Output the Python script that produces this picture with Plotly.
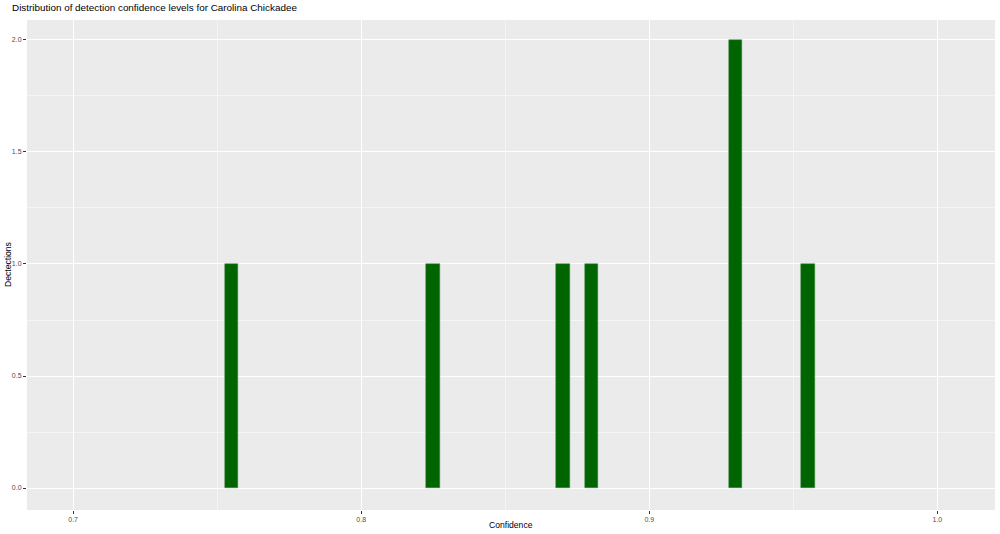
import plotly.graph_objects as go

confidence = [0.755, 0.825, 0.870, 0.880, 0.930, 0.955]
detections = [1, 1, 1, 1, 2, 1]
x_ticks = [0.7, 0.8, 0.9, 1.0]
x_tick_labels = ["0.7", "0.8", "0.9", "1.0"]
y_ticks = [0.0, 0.5, 1.0, 1.5, 2.0]
y_tick_labels = ["0.0", "0.5", "1.0", "1.5", "2.0"]

fig = go.Figure()
fig.add_trace(go.Bar(
    x=confidence, y=detections, width=0.0047,
    marker=dict(color="#006400", line=dict(color="#3a8a3a", width=0.5)),
))

font_family = "Liberation Sans, Arial, sans-serif"
fig.update_layout(
    width=1000, height=534,
    paper_bgcolor="white", plot_bgcolor="#EBEBEB",
    margin=dict(l=27, r=5, t=20, b=24, autoexpand=False),
    showlegend=False,
    font=dict(family=font_family, color="black"),
    title=dict(text="Distribution of detection confidence levels for Carolina Chickadee",
               x=0.012, xanchor="left", y=0.992, yanchor="top",
               font=dict(size=9.9, color="black")),
    bargap=0,
)
fig.update_xaxes(
    range=[0.684, 1.020], tickvals=x_ticks, ticktext=x_tick_labels,
    showgrid=True, gridcolor="white", gridwidth=1.1,
    minor=dict(dtick=0.05, tick0=0.65, showgrid=True, gridcolor="#F5F5F5", gridwidth=0.5),
    ticks="outside", ticklen=3, tickcolor="#333333", tickwidth=0.7,
    tickfont=dict(size=7, color="#4D4D4D"),
    zeroline=False, showline=False, automargin=False,
)
fig.update_yaxes(
    range=[-0.098, 2.089], tickvals=y_ticks, ticktext=y_tick_labels,
    showgrid=True, gridcolor="white", gridwidth=1.1,
    minor=dict(dtick=0.25, tick0=0.25, showgrid=True, gridcolor="#F5F5F5", gridwidth=0.5),
    ticks="outside", ticklen=3, tickcolor="#333333", tickwidth=0.7,
    tickfont=dict(size=7, color="#4D4D4D"),
    zeroline=False, showline=False, automargin=False,
)
fig.add_annotation(text="Confidence", xref="paper", yref="paper", x=0.5, y=0,
                   xanchor="center", yanchor="middle", showarrow=False,
                   font=dict(size=8.6, color="black"), yshift=-15)
fig.add_annotation(text="Dectections", xref="paper", yref="paper", x=0, y=0.5,
                   xanchor="center", yanchor="middle", showarrow=False, textangle=-90,
                   font=dict(size=8.6, color="black"), xshift=-19)
fig.write_html("out.html", config={"displayModeBar": False},
               post_script="document.body.style.margin='0';document.body.style.overflow='hidden';")
